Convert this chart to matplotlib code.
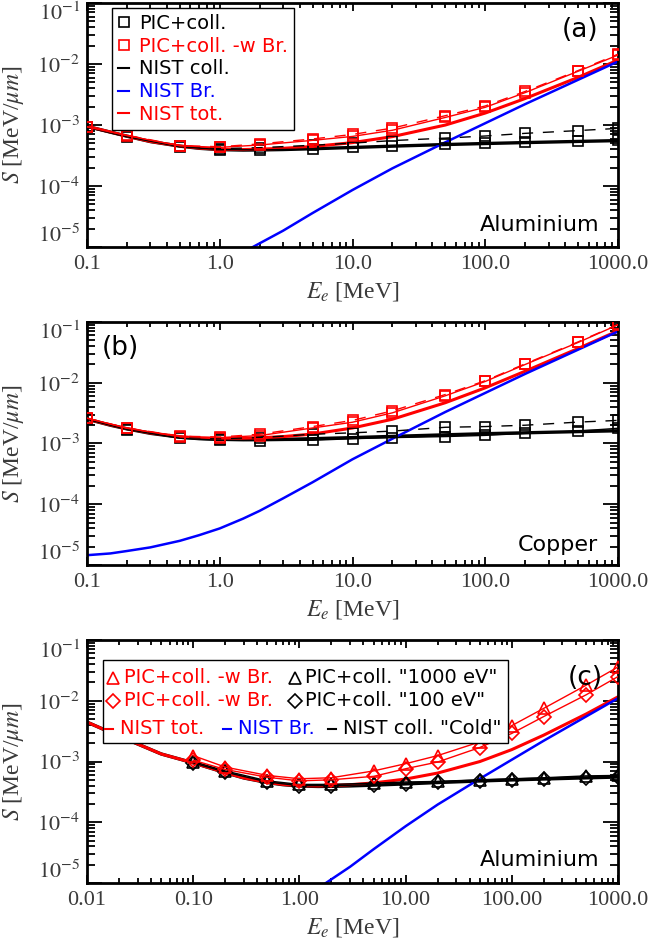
import numpy as np
import matplotlib
matplotlib.use("Agg")
import matplotlib.pyplot as plt
from matplotlib.lines import Line2D
from matplotlib.patches import Rectangle
from matplotlib.ticker import LogLocator, NullFormatter

plt.rcParams['font.family'] = ['Liberation Serif', 'DejaVu Serif']
plt.rcParams['mathtext.fontset'] = 'stix'
SANS = 'DejaVu Sans'
RED = '#ff0000'
BLUE = '#0000ff'
GREY = '#3a3a3a'

# NIST energy grid (MeV) and stopping powers (MeV/um), aluminium
e_al = [0.01, 0.02, 0.05, 0.1, 0.2, 0.3, 0.5, 0.7, 1, 1.5, 2, 3, 5, 10, 20, 50, 100, 200, 500, 1000]
al_coll = [4.45e-3, 2.62e-3, 1.33e-3, 9.5e-4, 6.55e-4, 5.35e-4, 4.5e-4, 4.15e-4, 3.95e-4, 3.88e-4,
           3.9e-4, 3.96e-4, 4.08e-4, 4.28e-4, 4.5e-4, 4.78e-4, 4.97e-4, 5.15e-4, 5.38e-4, 5.55e-4]
al_brems = [9.4e-7, 1.0e-6, 1.1e-6, 1.2e-6, 1.5e-6, 1.9e-6, 2.6e-6, 3.6e-6, 5.3e-6, 8.2e-6,
            1.15e-5, 1.85e-5, 3.6e-5, 8.6e-5, 1.95e-4, 5.2e-4, 1.07e-3, 2.2e-3, 5.5e-3, 1.1e-2]
al_tot = [4.45e-3, 2.62e-3, 1.33e-3, 9.51e-4, 6.57e-4, 5.37e-4, 4.53e-4, 4.19e-4, 4.0e-4, 3.96e-4,
          4.02e-4, 4.15e-4, 4.44e-4, 5.14e-4, 6.45e-4, 9.98e-4, 1.57e-3, 2.72e-3, 6.04e-3, 1.16e-2]

# copper
e_cu = [0.1, 0.15, 0.2, 0.3, 0.5, 0.7, 1, 1.5, 2, 3, 5, 10, 20, 50, 100, 200, 500, 1000]
cu_coll = [2.52e-3, 2.0e-3, 1.74e-3, 1.47e-3, 1.27e-3, 1.2e-3, 1.17e-3, 1.155e-3, 1.16e-3,
           1.17e-3, 1.2e-3, 1.25e-3, 1.31e-3, 1.39e-3, 1.45e-3, 1.5e-3, 1.57e-3, 1.62e-3]
cu_brems = [1.45e-5, 1.55e-5, 1.7e-5, 1.95e-5, 2.5e-5, 3.1e-5, 4.0e-5, 5.8e-5, 7.8e-5,
            1.25e-4, 2.3e-4, 5.5e-4, 1.2e-3, 3.3e-3, 6.8e-3, 1.4e-2, 3.5e-2, 7.0e-2]
cu_tot = [2.53e-3, 2.02e-3, 1.76e-3, 1.49e-3, 1.3e-3, 1.23e-3, 1.21e-3, 1.21e-3, 1.24e-3,
          1.3e-3, 1.43e-3, 1.8e-3, 2.51e-3, 4.69e-3, 8.25e-3, 1.55e-2, 3.66e-2, 7.16e-2]

# PIC simulations
e_pic = [0.1, 0.2, 0.5, 1, 2, 5, 10, 20, 50, 100, 200, 500, 1000]
al_pic = [9.2e-4, 6.4e-4, 4.4e-4, 3.95e-4, 3.9e-4, 4.05e-4, 4.3e-4, 4.55e-4, 4.85e-4, 5.0e-4, 5.2e-4, 5.4e-4, 5.6e-4]
al_pic2 = [9.3e-4, 6.6e-4, 4.5e-4, 4.1e-4, 4.25e-4, 4.65e-4, 5.05e-4, 5.55e-4, 6.1e-4, 6.6e-4, 7.3e-4, 8.1e-4, 8.8e-4]
al_picbr = [9.3e-4, 6.7e-4, 4.55e-4, 4.3e-4, 4.7e-4, 5.6e-4, 6.5e-4, 8.2e-4, 1.33e-3, 1.95e-3, 3.4e-3, 7.6e-3, 1.4e-2]
al_picbr2 = [9.4e-4, 6.8e-4, 4.6e-4, 4.4e-4, 4.9e-4, 5.9e-4, 7.0e-4, 8.9e-4, 1.42e-3, 2.05e-3, 3.55e-3, 7.8e-3, 1.45e-2]

cu_pic = [2.5e-3, 1.7e-3, 1.22e-3, 1.13e-3, 1.12e-3, 1.13e-3, 1.2e-3, 1.25e-3, 1.3e-3, 1.36e-3, 1.47e-3, 1.6e-3, 1.78e-3]
cu_pic2 = [2.55e-3, 1.75e-3, 1.28e-3, 1.2e-3, 1.25e-3, 1.42e-3, 1.5e-3, 1.6e-3, 1.85e-3, 1.9e-3, 2.0e-3, 2.25e-3, 2.4e-3]
cu_picbr = [2.6e-3, 1.78e-3, 1.3e-3, 1.25e-3, 1.35e-3, 1.8e-3, 2.24e-3, 3.2e-3, 6.1e-3, 1.05e-2, 2.0e-2, 4.6e-2, 9.0e-2]
cu_picbr2 = [2.62e-3, 1.8e-3, 1.32e-3, 1.28e-3, 1.42e-3, 1.9e-3, 2.4e-3, 3.45e-3, 6.4e-3, 1.08e-2, 2.05e-2, 4.7e-2, 9.1e-2]

# panel (c): temperature 1000 eV (triangles) and 100 eV (diamonds)
c_br_1000 = [1.25e-3, 8.1e-4, 5.9e-4, 5.2e-4, 5.4e-4, 7.0e-4, 9.2e-4, 1.25e-3, 2.1e-3, 3.9e-3, 7.5e-3, 1.8e-2, 3.6e-2]
c_br_100 = [1.05e-3, 7.4e-4, 5.5e-4, 4.8e-4, 5.0e-4, 5.7e-4, 7.6e-4, 9.8e-4, 1.7e-3, 2.9e-3, 5.5e-3, 1.25e-2, 2.5e-2]
c_col_1000 = [1.0e-3, 7.0e-4, 4.8e-4, 4.2e-4, 4.2e-4, 4.4e-4, 4.6e-4, 4.7e-4, 5.0e-4, 5.2e-4, 5.4e-4, 5.8e-4, 5.9e-4]
c_col_100 = [9.5e-4, 6.7e-4, 4.6e-4, 4.0e-4, 4.0e-4, 4.15e-4, 4.3e-4, 4.55e-4, 4.85e-4, 5.0e-4, 5.15e-4, 5.4e-4, 5.5e-4]

xt_ab = [0.1, 1, 10, 100, 1000]
xl_ab = ["0.1", "1.0", "10.0", "100.0", "1000.0"]
xt_c = [0.01, 0.1, 1, 10, 100, 1000]
xl_c = ["0.01", "0.10", "1.00", "10.00", "100.00", "1000.0"]
yt = [1e-5, 1e-4, 1e-3, 1e-2, 1e-1]
yl = [r"$10^{-5}$", r"$10^{-4}$", r"$10^{-3}$", r"$10^{-2}$", r"$10^{-1}$"]


def style(ax, xt, xl):
    ax.set_xscale('log')
    ax.set_yscale('log')
    ax.set_xlim(xt[0], xt[-1])
    ax.set_ylim(1e-5, 1e-1)
    ax.set_xticks(xt)
    ax.set_xticklabels(xl)
    ax.set_yticks(yt)
    ax.set_yticklabels(yl)
    for axis in (ax.xaxis, ax.yaxis):
        axis.set_minor_locator(LogLocator(base=10, subs=np.arange(2, 10)))
        axis.set_minor_formatter(NullFormatter())
    ax.tick_params(which='both', direction='in', top=True, right=True, labelsize=16,
                   width=1.3, labelcolor=GREY)
    ax.tick_params(axis='x', which='major', length=6, pad=6)
    ax.tick_params(axis='x', which='minor', length=3.5)
    ax.tick_params(axis='y', which='major', length=11, pad=5)
    ax.tick_params(axis='y', which='minor', length=6)
    for s in ax.spines.values():
        s.set_linewidth(2)
    ax.set_xlabel(r"$E_e$ [MeV]", fontsize=17, labelpad=4, color=GREY)
    ax.set_ylabel(r"$S$ [MeV/$\mu m$]", fontsize=17, labelpad=8, color=GREY)
    # end labels pulled inside the axis range, as in the original
    ticks = ax.yaxis.get_major_ticks()
    ticks[0].label1.set_va('bottom')
    ticks[-1].label1.set_va('top')


def nist(ax, e, coll, brems, tot):
    ax.plot(e, coll, color='k', lw=2.4, zorder=2)
    ax.plot(e, tot, color=RED, lw=2.2, zorder=2)
    ax.plot(e, brems, color=BLUE, lw=1.8, zorder=2)


def pic(ax, y, color, marker, ms, dashed=False):
    ls = (0, (8, 7)) if dashed else '-'
    ax.plot(e_pic, y, color=color, lw=1.0, ls=ls, marker=marker, ms=ms,
            mfc='none', mec=color, mew=1.2, zorder=3)


fig = plt.figure(figsize=(6.52, 9.51), dpi=100)
ax_a = fig.add_axes([87 / 652, 1 - 247 / 951, 531 / 652, 244 / 951])
ax_b = fig.add_axes([87 / 652, 1 - 565 / 951, 531 / 652, 243 / 951])
ax_c = fig.add_axes([87 / 652, 1 - 883 / 951, 531 / 652, 243 / 951])

# (a) aluminium
nist(ax_a, e_al, al_coll, al_brems, al_tot)
pic(ax_a, al_pic, 'k', 's', 7.5)
pic(ax_a, al_pic2, 'k', 's', 7.5, dashed=True)
pic(ax_a, al_picbr, RED, 's', 7.5)
pic(ax_a, al_picbr2, RED, 's', 7.5, dashed=True)
style(ax_a, xt_ab, xl_ab)
handles = [Line2D([], [], ls='none', marker='s', mfc='none', mec='k', ms=7, mew=1.2),
           Line2D([], [], ls='none', marker='s', mfc='none', mec=RED, ms=7, mew=1.2),
           Line2D([], [], color='k', lw=1.5),
           Line2D([], [], color=BLUE, lw=1.5),
           Line2D([], [], color=RED, lw=1.5)]
labels = ["PIC+coll.", "PIC+coll. -w Br.", "NIST coll.", "NIST Br.", "NIST tot."]
leg = ax_a.legend(handles, labels, loc='upper left', bbox_to_anchor=(0.047, 0.98),
                  prop={'family': SANS, 'size': 14}, labelcolor=['k', RED, 'k', BLUE, RED],
                  handlelength=0.6, handletextpad=0.5, labelspacing=0.2, borderpad=0.3,
                  borderaxespad=0, fancybox=False, edgecolor='k', framealpha=1)
leg.get_frame().set_linewidth(1.0)
ax_a.text(0.928, 0.89, "(a)", transform=ax_a.transAxes, ha='center', va='center', family=SANS, fontsize=19)
ax_a.text(0.966, 0.09, "Aluminium", transform=ax_a.transAxes, ha='right', va='center', family=SANS, fontsize=16)

# (b) copper
nist(ax_b, e_cu, cu_coll, cu_brems, cu_tot)
pic(ax_b, cu_pic, 'k', 's', 7.5)
pic(ax_b, cu_pic2, 'k', 's', 7.5, dashed=True)
pic(ax_b, cu_picbr, RED, 's', 7.5)
pic(ax_b, cu_picbr2, RED, 's', 7.5, dashed=True)
style(ax_b, xt_ab, xl_ab)
ax_b.text(0.062, 0.893, "(b)", transform=ax_b.transAxes, ha='center', va='center', family=SANS, fontsize=19)
ax_b.text(0.962, 0.082, "Copper", transform=ax_b.transAxes, ha='right', va='center', family=SANS, fontsize=16)

# (c) aluminium, plasma temperatures
nist(ax_c, e_al, al_coll, al_brems, al_tot)
pic(ax_c, c_col_1000, 'k', '^', 9)
pic(ax_c, c_col_100, 'k', 'D', 7)
pic(ax_c, c_br_1000, RED, '^', 9)
pic(ax_c, c_br_100, RED, 'D', 7)
style(ax_c, xt_c, xl_c)
T = ax_c.transAxes
ax_c.add_patch(Rectangle((0.030, 0.576), 0.763, 0.342, transform=T, facecolor='white',
                         edgecolor='k', lw=1.0, zorder=5))
rows = [0.844, 0.749, 0.634]
kw = dict(transform=T, va='center', ha='left', family=SANS, fontsize=14, zorder=6)
mk = dict(transform=T, ls='none', mfc='none', mew=1.2, zorder=6, clip_on=False)
ax_c.plot([0.049], [rows[0]], marker='^', ms=9, mec=RED, **mk)
ax_c.text(0.070, rows[0], "PIC+coll. -w Br.", color=RED, **kw)
ax_c.plot([0.392], [rows[0]], marker='^', ms=9, mec='k', **mk)
ax_c.text(0.411, rows[0], 'PIC+coll. "1000 eV"', color='k', **kw)
ax_c.plot([0.049], [rows[1]], marker='D', ms=7, mec=RED, **mk)
ax_c.text(0.070, rows[1], "PIC+coll. -w Br.", color=RED, **kw)
ax_c.plot([0.392], [rows[1]], marker='D', ms=7, mec='k', **mk)
ax_c.text(0.411, rows[1], 'PIC+coll. "100 eV"', color='k', **kw)
for x0, xt0, txt, col in [(0.041, 0.062, "NIST tot.", RED), (0.264, 0.285, "NIST Br.", BLUE),
                          (0.461, 0.482, 'NIST coll. "Cold"', 'k')]:
    ax_c.plot([x0 - 0.008, x0 + 0.008], [rows[2], rows[2]], color=col, lw=1.5, transform=T, zorder=6)
    ax_c.text(xt0, rows[2], txt, color=col, **kw)
ax_c.text(0.938, 0.844, "(c)", transform=T, ha='center', va='center', family=SANS, fontsize=19)
ax_c.text(0.966, 0.095, "Aluminium", transform=T, ha='right', va='center', family=SANS, fontsize=16)

fig.savefig("out.png", dpi=100)
